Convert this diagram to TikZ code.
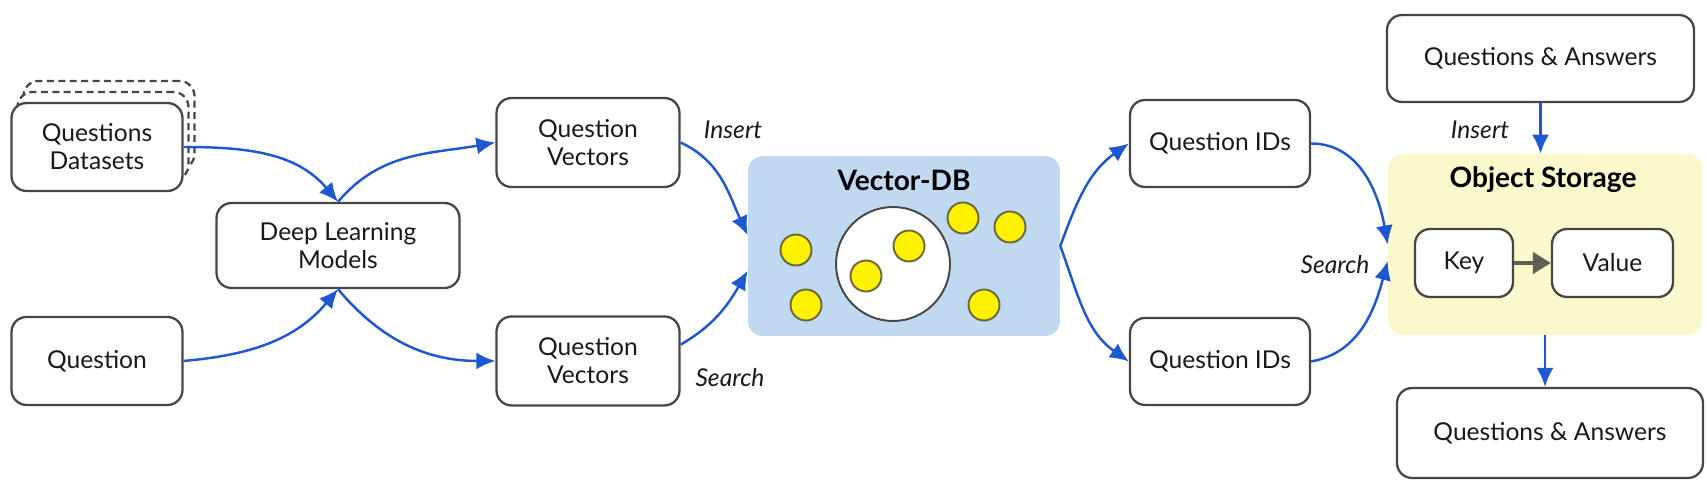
\documentclass[tikz,border=0pt]{standalone}
\usepackage{fontspec}
\setmainfont{Lato}
\usetikzlibrary{shapes.geometric, arrows.meta}
\definecolor{boxgray}{RGB}{70,70,70}
\definecolor{arrowblue}{RGB}{30,88,208}
\definecolor{dbblue}{RGB}{192,216,240}
\definecolor{osyellow}{RGB}{250,249,204}
\definecolor{dotedge}{RGB}{105,105,60}
\definecolor{keygray}{RGB}{95,95,90}
\tikzstyle{box} =
[
	rectangle
	, rounded corners=0.3cm
	, align=center
	, inner sep=0pt
	, draw=boxgray
	, line width=1.3pt
	, fill=white
	, text=black!90
	, font=\fontsize{14}{16}\selectfont
]
\tikzstyle{area} =
[
	rectangle
	, rounded corners=0.3cm
	, inner sep=0pt
]
\tikzstyle{boxtitle} = [font=\fontsize{16}{18}\selectfont\bfseries, text=black]
\tikzstyle{edgetext} = [font=\fontsize{14}{16}\selectfont\itshape, text=black!90]
\tikzstyle{dot} = [circle, fill=yellow, draw=dotedge, line width=1.1pt, minimum size=0.62cm, inner sep=0pt]
\tikzstyle{arrow} = [line width=1.4pt, draw=arrowblue, -{Latex[length=0.38cm,width=0.34cm]}]
\tikzstyle{keyarrow} = [line width=2.6pt, draw=keygray, -{Triangle[length=0.36cm,width=0.42cm]}]

\begin{document}
\begin{tikzpicture}[x=0.02cm, y=0.02cm]
\useasboundingbox (0,0) rectangle (1707,487);

% input side
\node(qdatab2)[box, dash pattern=on 4pt off 2.5pt, minimum width=3.42cm, minimum height=1.76cm] at (109,362) {};
\node(qdatab1)[box, dash pattern=on 4pt off 2.5pt, minimum width=3.42cm, minimum height=1.76cm] at (103,351) {};
\node(qdata)[box, minimum width=3.42cm, minimum height=1.76cm] at (97,340) {Questions\\Datasets};
\node(quest)[box, minimum width=3.42cm, minimum height=1.76cm, below of=qdata, node distance=4.28cm] {Question};
\node(dlm)[box, minimum width=4.86cm, minimum height=1.7cm] at (338,241.5) {Deep Learning\\Models};
\node(qvec1)[box, minimum width=3.66cm, minimum height=1.78cm] at (588,344.5) {Question\\Vectors};
\node(qvec2)[box, minimum width=3.66cm, minimum height=1.78cm, below of=qvec1, node distance=4.37cm] {Question\\Vectors};

% vector database
\node(vdb)[area, fill=dbblue, minimum width=6.24cm, minimum height=3.6cm] at (904,241) {};
\node(vdbtitle)[boxtitle] at (904,307) {Vector-DB};
\node(cluster)[circle, draw=boxgray, line width=1.1pt, fill=white, minimum size=2.28cm] at (893,223) {};
\foreach \i/\px/\py in {1/796/237, 2/806/182, 3/963/269, 4/1010/260, 5/984/182, 6/866/211, 7/909/241}
	\node(d\i)[dot] at (\px,\py) {};

% search results
\node(qid1)[box, minimum width=3.6cm, minimum height=1.74cm] at (1220,343.5) {Question IDs};
\node(qid2)[box, minimum width=3.6cm, minimum height=1.74cm, below of=qid1, node distance=4.36cm] {Question IDs};

% object storage
\node(ostore)[area, fill=osyellow, minimum width=6.28cm, minimum height=3.62cm] at (1545,242.5) {};
\node(ostitle)[boxtitle] at (1543,307) {Object Storage};
\node(key)[box, minimum width=1.96cm, minimum height=1.36cm] at (1464,224) {Key};
\node(val)[box, minimum width=2.42cm, minimum height=1.36cm] at (1612.5,224) {Value};
\node(qa1)[box, minimum width=6.14cm, minimum height=1.74cm] at (1540.5,428.5) {Questions \& Answers};
\node(qa2)[box, minimum width=6.12cm, minimum height=1.8cm] at (1550,54) {Questions \& Answers};

% labels
\node(ins1)[edgetext] at (733,357) {Insert};
\node(srch1)[edgetext] at (730,109) {Search};
\node(ins2)[edgetext] at (1480,357) {Insert};
\node(srch2)[edgetext] at (1335,222) {Search};

\draw[arrow](qdata.east) to[out=0, in=130] (dlm.north);
\draw[arrow](quest.east) to[out=5, in=-130] (dlm.south);
\draw[arrow](dlm.north) to[out=50, in=190] (qvec1.west);
\draw[arrow](dlm.south) to[out=-50, in=180] (qvec2.west);
\draw[arrow](qvec1.east) to[out=-25, in=115] (vdb.176);
\draw[arrow](qvec2.10) to[out=30, in=-120] (vdb.189);
\draw[arrow](vdb.east) to[out=70, in=215] (qid1.west);
\draw[arrow](vdb.east) to[out=-70, in=145] (qid2.west);
\draw[arrow](qid1.east) to[out=0, in=100] (ostore.west);
\draw[arrow](qid2.east) to[out=10, in=-105] (ostore.186);
\draw[arrow](qa1.south) -- (qa1.south |- ostore.north);
\draw[arrow](ostore.south) -- (ostore.south |- qa2.north);
\draw[keyarrow](key.east) -- (val.west);

\end{tikzpicture}
\end{document}
